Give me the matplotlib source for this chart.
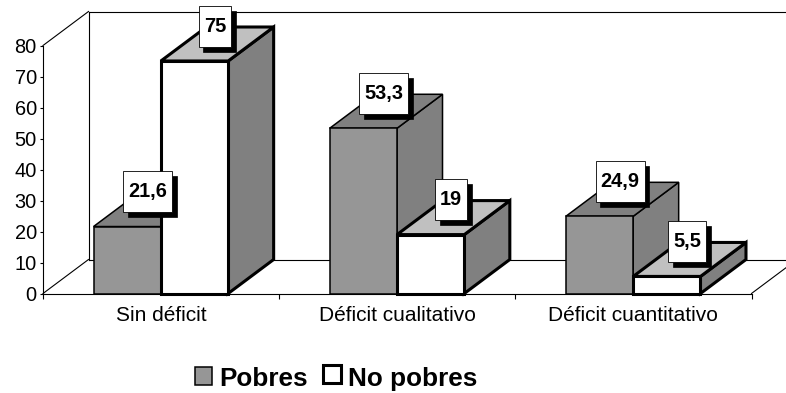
import matplotlib
matplotlib.use("Agg")

import matplotlib.pyplot as plt
from matplotlib.patches import Polygon, Rectangle
from matplotlib.transforms import IdentityTransform

# Datos
categorias = ["Sin déficit", "Déficit cualitativo", "Déficit cuantitativo"]
pobres = [21.6, 53.3, 24.9]
no_pobres = [75, 19, 5.5]
etiquetas_pobres = ["21,6", "53,3", "24,9"]
etiquetas_no_pobres = ["75", "19", "5,5"]
ticks_y = [0, 10, 20, 30, 40, 50, 60, 70, 80]

W, H = 786, 393
FUENTE = "Liberation Sans"

# Caja del eje frontal, en pixeles
X0, X1 = 43.0, 751.5
Y0, Y80 = 293.5, 45.5

# Profundidad del efecto 3D, en unidades de datos
PROF_X = 45.5 / ((X1 - X0) / 3)
PROF_Y = 34 / ((Y0 - Y80) / 80)
# Posicion y ancho de barras dentro de cada categoria
MARGEN = 0.214
ANCHO = 0.285

plt.rcParams["font.family"] = FUENTE

fig = plt.figure(figsize=(W / 100, H / 100), dpi=100)
ax = fig.add_axes([X0 / W, 1 - Y0 / H, (X1 - X0) / W, (Y0 - Y80) / H])
ax.set_xlim(0, 3)
ax.set_ylim(0, 80)
ax.patch.set_alpha(0)

for s in ["top", "right"]:
    ax.spines[s].set_visible(False)
for s in ["left", "bottom"]:
    ax.spines[s].set_linewidth(0.8)

ax.set_yticks(ticks_y)
ax.set_yticklabels([str(t) for t in ticks_y], fontsize=14.4)
ax.set_xticks([0, 1, 2, 3])
ax.set_xticklabels([])
ax.tick_params(axis="y", length=2.5, width=0.8, pad=2)
ax.tick_params(axis="x", length=3.5, width=0.8)

for i, cat in enumerate(categorias):
    ax.text(i + 0.5, -7.2, cat, ha="center", va="center", fontsize=15)

# Paredes del fondo y piso
fondo = dict(color="black", lw=0.8, clip_on=False, zorder=1)
ax.plot([0, PROF_X], [0, PROF_Y], **fondo)
ax.plot([0, PROF_X], [80, 80 + PROF_Y], **fondo)
ax.plot([PROF_X, PROF_X], [PROF_Y, 80 + PROF_Y], **fondo)
ax.plot([PROF_X, 3 + PROF_X], [PROF_Y, PROF_Y], **fondo)
ax.plot([PROF_X, 3 + PROF_X], [80 + PROF_Y, 80 + PROF_Y], **fondo)
ax.plot([3, 3 + PROF_X], [0, PROF_Y], **fondo)


def barra_3d(x, valor, frente, tapa, lado, grosor, z):
    borde = dict(edgecolor="black", linewidth=grosor, joinstyle="miter",
                 clip_on=False, zorder=z)
    ax.add_patch(Polygon([(x + ANCHO, 0), (x + ANCHO + PROF_X, PROF_Y),
                          (x + ANCHO + PROF_X, valor + PROF_Y), (x + ANCHO, valor)],
                         facecolor=lado, **borde))
    ax.add_patch(Polygon([(x, valor), (x + PROF_X, valor + PROF_Y),
                          (x + ANCHO + PROF_X, valor + PROF_Y), (x + ANCHO, valor)],
                         facecolor=tapa, **borde))
    ax.bar(x, valor, ANCHO, align="edge", color=frente, **borde)


for i in range(len(categorias)):
    z = 3 + i * 2
    barra_3d(i + MARGEN, pobres[i], "#969696", "#808080", "#808080", 1.1, z)
    barra_3d(i + MARGEN + ANCHO, no_pobres[i], "white", "#c0c0c0", "#808080", 2.2, z + 1)

# Etiquetas con sombra sobre cada barra
renderer = fig.canvas.get_renderer()


def etiqueta(x, valor, texto):
    cx, cy = ax.transData.transform((x + ANCHO / 2, valor))
    cx += 20.5
    cy += 35
    t = ax.text(cx, cy, texto, transform=IdentityTransform(), ha="center", va="center",
                fontsize=14.4, fontweight="bold", zorder=22, clip_on=False)
    ancho = t.get_window_extent(renderer).width + 10
    alto = 41
    ax.add_patch(Rectangle((cx - ancho / 2 + 4.5, cy - alto / 2 - 5), ancho, alto,
                           transform=IdentityTransform(), facecolor="black",
                           edgecolor="black", linewidth=0.5, clip_on=False, zorder=20))
    ax.add_patch(Rectangle((cx - ancho / 2, cy - alto / 2), ancho, alto,
                           transform=IdentityTransform(), facecolor="white",
                           edgecolor="black", linewidth=0.6, clip_on=False, zorder=21))


for i in range(len(categorias)):
    etiqueta(i + MARGEN, pobres[i], etiquetas_pobres[i])
    etiqueta(i + MARGEN + ANCHO, no_pobres[i], etiquetas_no_pobres[i])


# Leyenda
def cuadro(x, y, lado, color, grosor):
    fig.add_artist(Rectangle((x / W, 1 - (y + lado) / H), lado / W, lado / H, facecolor=color,
                             edgecolor="black", linewidth=grosor, transform=fig.transFigure))


cuadro(194.5, 367, 17.5, "#969696", 1.1)
cuadro(322.5, 365, 18, "white", 2.2)
fig.text(219.5 / W, 1 - 386 / H, "Pobres", fontsize=18.8, fontweight="bold", va="baseline")
fig.text(347.5 / W, 1 - 386 / H, "No pobres", fontsize=18.8, fontweight="bold", va="baseline")

fig.savefig("out.png", dpi=100)
